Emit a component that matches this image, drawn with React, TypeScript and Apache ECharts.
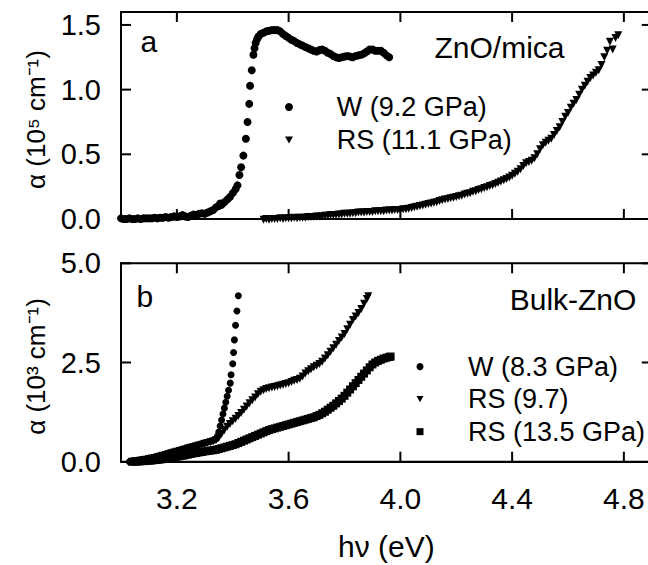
import React, { useEffect, useRef } from "react";
import * as echarts from "echarts";

const FONT = "'Liberation Sans', Arial, Helvetica, sans-serif";

const X_MIN = 3.0;
const X_MAX = 4.9;
const X_TICKS = [3.2, 3.6, 4.0, 4.4, 4.8];
const TOP_Y_MAX = 1.6;
const BOT_Y_MAX = 5.0;
const TOP_Y_TICKS = [0, 0.5, 1.0, 1.5];
const BOT_Y_TICKS = [0, 2.5, 5.0];

const TOP_LEGEND = ["W (9.2 GPa)", "RS (11.1 GPa)"];
const BOT_LEGEND = ["W (8.3 GPa)", "RS (9.7)", "RS (13.5 GPa)"];

// panel a: ZnO/mica, W phase (9.2 GPa)
const TOP_W: number[][] = [
  [3.00, 0.005], [3.01, 0.0], [3.02, 0.0], [3.03, 0.005], [3.04, 0.0], [3.05, 0.0], [3.06, 0.005], [3.07, 0.0],
  [3.08, 0.005], [3.09, 0.005], [3.10, 0.005], [3.11, 0.005], [3.12, 0.01], [3.13, 0.005], [3.14, 0.01], [3.15, 0.01],
  [3.16, 0.015], [3.17, 0.01], [3.18, 0.015], [3.19, 0.02], [3.20, 0.015], [3.21, 0.02], [3.22, 0.03], [3.23, 0.02],
  [3.24, 0.015], [3.25, 0.025], [3.26, 0.035], [3.27, 0.03], [3.28, 0.04], [3.29, 0.045], [3.30, 0.04], [3.31, 0.05],
  [3.32, 0.06], [3.33, 0.07], [3.34, 0.09], [3.35, 0.10], [3.355, 0.12], [3.36, 0.11], [3.37, 0.13], [3.38, 0.15],
  [3.39, 0.17], [3.40, 0.20], [3.41, 0.23], [3.417, 0.26], [3.424, 0.34], [3.430, 0.40], [3.438, 0.49], [3.447, 0.62],
  [3.453, 0.75], [3.459, 0.89], [3.462, 1.03], [3.468, 1.15], [3.474, 1.27], [3.478, 1.32], [3.482, 1.36], [3.487, 1.39],
  [3.492, 1.41], [3.50, 1.43], [3.51, 1.44], [3.52, 1.45], [3.53, 1.455], [3.54, 1.46], [3.55, 1.46], [3.56, 1.46],
  [3.57, 1.45], [3.58, 1.43], [3.59, 1.415], [3.60, 1.40], [3.61, 1.385], [3.62, 1.375], [3.63, 1.36], [3.64, 1.35],
  [3.65, 1.34], [3.66, 1.33], [3.67, 1.32], [3.68, 1.31], [3.69, 1.30], [3.70, 1.295], [3.71, 1.305], [3.72, 1.31],
  [3.73, 1.30], [3.74, 1.285], [3.75, 1.275], [3.76, 1.26], [3.77, 1.25], [3.78, 1.245], [3.79, 1.25], [3.80, 1.255],
  [3.81, 1.26], [3.82, 1.255], [3.83, 1.25], [3.84, 1.26], [3.85, 1.265], [3.86, 1.27], [3.87, 1.28], [3.88, 1.295],
  [3.89, 1.31], [3.90, 1.31], [3.91, 1.30], [3.92, 1.30], [3.93, 1.30], [3.94, 1.285], [3.95, 1.265], [3.96, 1.25],
];

// panel a: ZnO/mica, RS phase (11.1 GPa)
const TOP_RS: number[][] = [
  [3.51, -0.005], [3.52, 0.0], [3.53, -0.005], [3.54, 0.0], [3.55, 0.0], [3.56, 0.0], [3.57, 0.005], [3.58, 0.0],
  [3.59, 0.005], [3.60, 0.005], [3.61, 0.005], [3.62, 0.01], [3.63, 0.005], [3.64, 0.01], [3.65, 0.01], [3.66, 0.01],
  [3.67, 0.015], [3.68, 0.015], [3.69, 0.015], [3.70, 0.02], [3.71, 0.02], [3.72, 0.02], [3.73, 0.025], [3.74, 0.025],
  [3.75, 0.03], [3.76, 0.03], [3.77, 0.03], [3.78, 0.035], [3.79, 0.035], [3.80, 0.04], [3.81, 0.04], [3.82, 0.04],
  [3.83, 0.045], [3.84, 0.045], [3.85, 0.05], [3.86, 0.05], [3.87, 0.05], [3.88, 0.055], [3.89, 0.055], [3.90, 0.055],
  [3.91, 0.06], [3.92, 0.06], [3.93, 0.06], [3.94, 0.06], [3.95, 0.065], [3.96, 0.065], [3.97, 0.065], [3.98, 0.07],
  [3.99, 0.07], [4.00, 0.07], [4.01, 0.075], [4.02, 0.075], [4.03, 0.08], [4.04, 0.085], [4.05, 0.09], [4.06, 0.095],
  [4.07, 0.10], [4.08, 0.105], [4.09, 0.11], [4.10, 0.115], [4.11, 0.12], [4.12, 0.125], [4.13, 0.13], [4.14, 0.14],
  [4.15, 0.145], [4.16, 0.15], [4.17, 0.155], [4.18, 0.16], [4.19, 0.165], [4.20, 0.17], [4.21, 0.175], [4.22, 0.18],
  [4.23, 0.19], [4.24, 0.195], [4.25, 0.20], [4.26, 0.21], [4.27, 0.215], [4.28, 0.225], [4.29, 0.23], [4.30, 0.24],
  [4.31, 0.245], [4.32, 0.255], [4.33, 0.26], [4.34, 0.27], [4.35, 0.28], [4.36, 0.29], [4.37, 0.30], [4.38, 0.31],
  [4.39, 0.32], [4.40, 0.335], [4.41, 0.35], [4.42, 0.365], [4.43, 0.385], [4.44, 0.41], [4.45, 0.43], [4.46, 0.44],
  [4.47, 0.45], [4.48, 0.47], [4.49, 0.50], [4.50, 0.54], [4.51, 0.57], [4.52, 0.59], [4.53, 0.605], [4.54, 0.62],
  [4.55, 0.65], [4.56, 0.68], [4.57, 0.71], [4.58, 0.75], [4.59, 0.79], [4.60, 0.82], [4.61, 0.86], [4.62, 0.89],
  [4.63, 0.92], [4.64, 0.96], [4.65, 1.00], [4.66, 1.03], [4.67, 1.06], [4.68, 1.09], [4.69, 1.11], [4.70, 1.13],
  [4.71, 1.15], [4.72, 1.19], [4.73, 1.25], [4.74, 1.30], [4.75, 1.37], [4.76, 1.31], [4.77, 1.40], [4.78, 1.42],
];

// panel b: bulk ZnO, W phase (8.3 GPa)
const BOT_W: number[][] = [
  [3.03, 0.0], [3.04, 0.01], [3.05, 0.02], [3.06, 0.03], [3.07, 0.04], [3.08, 0.05], [3.09, 0.065], [3.10, 0.08],
  [3.11, 0.095], [3.12, 0.11], [3.13, 0.13], [3.14, 0.15], [3.15, 0.17], [3.16, 0.19], [3.17, 0.21], [3.18, 0.23],
  [3.19, 0.25], [3.20, 0.27], [3.21, 0.29], [3.22, 0.31], [3.23, 0.33], [3.24, 0.355], [3.25, 0.375], [3.26, 0.395],
  [3.27, 0.415], [3.28, 0.435], [3.29, 0.455], [3.30, 0.475], [3.31, 0.495], [3.32, 0.515], [3.33, 0.54], [3.34, 0.58],
  [3.345, 0.64], [3.35, 0.75], [3.355, 0.9], [3.36, 1.05], [3.365, 1.2], [3.37, 1.35], [3.375, 1.5], [3.38, 1.65],
  [3.385, 1.8], [3.391, 1.98], [3.394, 2.19], [3.40, 2.47], [3.403, 2.75], [3.406, 3.07], [3.41, 3.44], [3.415, 3.80],
  [3.42, 4.18],
];

// panel b: bulk ZnO, RS phase (9.7 GPa)
const BOT_RS1: number[][] = [
  [3.05, 0.01], [3.06, 0.02], [3.07, 0.03], [3.08, 0.04], [3.09, 0.05], [3.10, 0.065], [3.11, 0.08], [3.12, 0.095],
  [3.13, 0.11], [3.14, 0.13], [3.15, 0.15], [3.16, 0.17], [3.17, 0.19], [3.18, 0.21], [3.19, 0.23], [3.20, 0.25],
  [3.21, 0.27], [3.22, 0.29], [3.23, 0.31], [3.24, 0.33], [3.25, 0.35], [3.26, 0.37], [3.27, 0.39], [3.28, 0.41],
  [3.29, 0.43], [3.30, 0.45], [3.31, 0.47], [3.32, 0.49], [3.33, 0.51], [3.34, 0.54], [3.35, 0.60], [3.36, 0.70],
  [3.37, 0.79], [3.38, 0.88], [3.39, 0.95], [3.40, 1.02], [3.41, 1.08], [3.42, 1.15], [3.43, 1.23], [3.44, 1.31],
  [3.45, 1.39], [3.46, 1.47], [3.47, 1.55], [3.48, 1.62], [3.49, 1.70], [3.50, 1.76], [3.51, 1.80], [3.52, 1.83],
  [3.53, 1.85], [3.54, 1.87], [3.55, 1.88], [3.56, 1.90], [3.57, 1.92], [3.58, 1.94], [3.59, 1.96], [3.60, 1.98],
  [3.61, 2.01], [3.62, 2.04], [3.63, 2.06], [3.64, 2.09], [3.65, 2.15], [3.66, 2.22], [3.67, 2.28], [3.68, 2.33],
  [3.69, 2.38], [3.70, 2.42], [3.71, 2.46], [3.72, 2.52], [3.73, 2.60], [3.74, 2.68], [3.75, 2.77], [3.76, 2.86],
  [3.77, 2.95], [3.78, 3.04], [3.79, 3.13], [3.80, 3.22], [3.81, 3.34], [3.82, 3.45], [3.83, 3.57], [3.84, 3.66],
  [3.85, 3.75], [3.86, 3.85], [3.87, 3.98], [3.88, 4.10], [3.885, 4.17],
];

// panel b: bulk ZnO, RS phase (13.5 GPa)
const BOT_RS2: number[][] = [
  [3.04, 0.0], [3.05, 0.0], [3.06, 0.005], [3.07, 0.01], [3.08, 0.015], [3.09, 0.02], [3.10, 0.025], [3.11, 0.03],
  [3.12, 0.04], [3.13, 0.045], [3.14, 0.055], [3.15, 0.065], [3.16, 0.075], [3.17, 0.085], [3.18, 0.10], [3.19, 0.11],
  [3.20, 0.125], [3.21, 0.14], [3.22, 0.15], [3.23, 0.165], [3.24, 0.18], [3.25, 0.195], [3.26, 0.21], [3.27, 0.22],
  [3.28, 0.235], [3.29, 0.245], [3.30, 0.26], [3.31, 0.27], [3.32, 0.28], [3.33, 0.29], [3.34, 0.30], [3.35, 0.32],
  [3.36, 0.34], [3.37, 0.36], [3.38, 0.38], [3.39, 0.40], [3.40, 0.42], [3.41, 0.44], [3.42, 0.47], [3.43, 0.50],
  [3.44, 0.53], [3.45, 0.56], [3.46, 0.59], [3.47, 0.62], [3.48, 0.65], [3.49, 0.68], [3.50, 0.71], [3.51, 0.74],
  [3.52, 0.77], [3.53, 0.80], [3.54, 0.82], [3.55, 0.84], [3.56, 0.86], [3.57, 0.88], [3.58, 0.90], [3.59, 0.92],
  [3.60, 0.94], [3.61, 0.96], [3.62, 0.98], [3.63, 1.00], [3.64, 1.02], [3.65, 1.04], [3.66, 1.06], [3.67, 1.08],
  [3.68, 1.10], [3.69, 1.12], [3.70, 1.15], [3.71, 1.18], [3.72, 1.22], [3.73, 1.26], [3.74, 1.31], [3.75, 1.36],
  [3.76, 1.41], [3.77, 1.47], [3.78, 1.53], [3.79, 1.59], [3.80, 1.66], [3.81, 1.74], [3.82, 1.82], [3.83, 1.90],
  [3.84, 1.98], [3.85, 2.06], [3.86, 2.14], [3.87, 2.22], [3.88, 2.30], [3.89, 2.38], [3.90, 2.45], [3.91, 2.50],
  [3.92, 2.54], [3.93, 2.57], [3.94, 2.60], [3.95, 2.62], [3.96, 2.64], [3.965, 2.65],
];

const BLACK = "#000";
const TRI_DOWN = "path://M0,0L10,0L5,8.66Z";
const TICK_LEN = 10;

function buildOption(): any {
  const labelStyle = { color: BLACK, fontFamily: FONT };

  const xAxis = (grid: number, labels: boolean, name?: string) => ({
    type: "value",
    gridIndex: grid,
    position: "bottom",
    min: X_MIN,
    max: X_MAX,
    axisLine: { show: true, onZero: false, lineStyle: { color: BLACK, width: 2 } },
    axisTick: { show: false },
    axisLabel: labels
      ? { show: true, ...labelStyle, fontSize: 30, margin: 22, customValues: X_TICKS, formatter: (v: number) => v.toFixed(1) }
      : { show: false },
    splitLine: { show: false },
    name: name || "",
    nameLocation: "middle",
    nameGap: 70,
    nameTextStyle: { ...labelStyle, fontSize: 30 },
  });

  const yAxis = (grid: number, max: number, ticks: number[], name: string) => ({
    type: "value",
    gridIndex: grid,
    position: "left",
    min: 0,
    max,
    axisLine: { show: true, onZero: false, lineStyle: { color: BLACK, width: 2 } },
    axisTick: { show: false },
    axisLabel: { show: true, ...labelStyle, fontSize: 29, margin: 20, customValues: ticks, formatter: (v: number) => v.toFixed(1) },
    splitLine: { show: false },
    name,
    nameLocation: "middle",
    nameGap: 72,
    nameTextStyle: { ...labelStyle, fontSize: 26, padding: [0, 8, 0, 0] },
  });

  const scatter = (name: string, data: number[][], axis: number, symbol: string, size: number) => ({
    name,
    type: "scatter",
    xAxisIndex: axis,
    yAxisIndex: axis,
    data,
    symbol,
    symbolSize: size,
    itemStyle: { color: BLACK, opacity: 1 },
    clip: false,
    silent: true,
  });

  // inward ticks on the bottom and top edges, placed through the x scale
  const xTicks = (axis: number) => ({
    name: "_xticks" + axis,
    type: "custom",
    xAxisIndex: axis,
    yAxisIndex: axis,
    data: X_TICKS.map((v) => [v, 0]),
    clip: false,
    silent: true,
    z: 5,
    renderItem: (params: any, api: any) => {
      const cs = params.coordSys;
      const px = api.coord([api.value(0), api.value(1)])[0];
      const bottom = cs.y + cs.height;
      const style = { stroke: BLACK, lineWidth: 2 };
      return {
        type: "group",
        children: [
          { type: "line", shape: { x1: px, y1: bottom, x2: px, y2: bottom - TICK_LEN }, style },
          { type: "line", shape: { x1: px, y1: cs.y, x2: px, y2: cs.y + TICK_LEN }, style },
        ],
      };
    },
  });

  // inward ticks on the left and right edges, placed through the y scale
  const yTicks = (axis: number, ticks: number[]) => ({
    name: "_yticks" + axis,
    type: "custom",
    xAxisIndex: axis,
    yAxisIndex: axis,
    data: ticks.filter((v) => v > 0).map((v) => [X_MIN, v]),
    clip: false,
    silent: true,
    z: 5,
    renderItem: (params: any, api: any) => {
      const cs = params.coordSys;
      const py = api.coord([api.value(0), api.value(1)])[1];
      const right = cs.x + cs.width;
      const style = { stroke: BLACK, lineWidth: 2 };
      return {
        type: "group",
        children: [
          { type: "line", shape: { x1: cs.x, y1: py, x2: cs.x + TICK_LEN, y2: py }, style },
          { type: "line", shape: { x1: right, y1: py, x2: right - TICK_LEN, y2: py }, style },
        ],
      };
    },
  });

  const legend = (names: string[], left: number, top: number, size: number, lineHeight: number, gap: number) => ({
    data: names,
    orient: "vertical",
    left,
    top,
    padding: 0,
    itemGap: 0,
    itemWidth: size,
    itemHeight: size,
    selectedMode: false,
    textStyle: { color: BLACK, fontSize: 27, fontFamily: FONT, lineHeight, padding: [0, 0, 0, gap] },
  });

  const gridBase = {
    left: 121,
    right: -3.8,
    show: true,
    borderColor: BLACK,
    borderWidth: 2,
    backgroundColor: "transparent",
    containLabel: false,
    outerBoundsMode: "none",
  };

  const text = (t: string, x: number, y: number, size: number) => ({
    type: "text",
    x,
    y,
    style: { text: t, fontSize: size, fontFamily: FONT, fill: BLACK, align: "left", verticalAlign: "middle" },
  });

  return {
    animation: false,
    grid: [
      { ...gridBase, top: 12, height: 207 },
      { ...gridBase, top: 263.3, height: 198.4 },
    ],
    xAxis: [xAxis(0, false), xAxis(1, true, "hν (eV)")],
    yAxis: [
      yAxis(0, TOP_Y_MAX, TOP_Y_TICKS, "α (10⁵ cm⁻¹)"),
      yAxis(1, BOT_Y_MAX, BOT_Y_TICKS, "α (10³ cm⁻¹)"),
    ],
    legend: [
      legend(TOP_LEGEND, 285, 90.5, 8, 33, 38.7),
      legend(BOT_LEGEND, 416.5, 350.4, 7, 32.5, 39.5),
    ],
    graphic: [
      text("a", 140.5, 41.4, 30),
      text("b", 136.5, 296.8, 30),
      text("ZnO/mica", 434.5, 47.8, 30),
      text("Bulk-ZnO", 509.7, 299.3, 30),
    ],
    series: [
      scatter(TOP_LEGEND[0], TOP_W, 0, "circle", 8),
      scatter(TOP_LEGEND[1], TOP_RS, 0, TRI_DOWN, 8),
      scatter(BOT_LEGEND[0], BOT_W, 1, "circle", 7),
      scatter(BOT_LEGEND[1], BOT_RS1, 1, TRI_DOWN, 8),
      scatter(BOT_LEGEND[2], BOT_RS2, 1, "rect", 8),
      xTicks(0),
      xTicks(1),
      yTicks(0, TOP_Y_TICKS),
      yTicks(1, BOT_Y_TICKS),
    ],
  };
}

export default function App() {
  const ref = useRef<HTMLDivElement>(null);
  useEffect(() => {
    if (!ref.current) return;
    const chart = echarts.init(ref.current, null, { renderer: "svg" });
    chart.setOption(buildOption());
    return () => chart.dispose();
  }, []);
  return (
    <div style={{ position: "absolute", left: 0, top: 0, width: 648, height: 565, background: "#fff" }}>
      <div ref={ref} style={{ width: 648, height: 565 }} />
    </div>
  );
}
